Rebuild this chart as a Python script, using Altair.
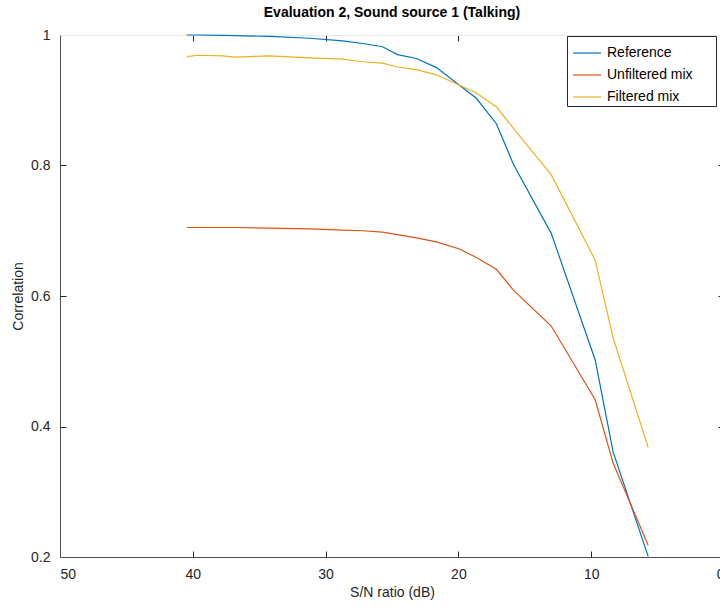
import altair as alt
import pandas as pd

# S/N ratio (dB) of each measured point
snr = [40.45, 39.62, 37.74, 36.84, 34.21, 31.20, 28.72, 27.22, 25.71, 24.59,
       23.16, 21.65, 19.92, 18.65, 17.14, 15.86, 13.01, 9.70, 8.35, 5.71]
reference = [1.000, 1.000, 0.9995, 0.999, 0.998, 0.995, 0.991, 0.987, 0.982, 0.970,
             0.964, 0.950, 0.923, 0.903, 0.864, 0.802, 0.696, 0.502, 0.361, 0.201]
unfiltered = [0.705, 0.705, 0.705, 0.705, 0.704, 0.703, 0.701, 0.700, 0.698, 0.694,
              0.689, 0.683, 0.672, 0.659, 0.641, 0.609, 0.554, 0.441, 0.344, 0.218]
filtered = [0.967, 0.969, 0.968, 0.966, 0.968, 0.965, 0.963, 0.959, 0.957, 0.951,
            0.947, 0.939, 0.923, 0.911, 0.890, 0.857, 0.786, 0.655, 0.536, 0.368]

series_names = ["Reference", "Unfiltered mix", "Filtered mix"]
series_colors = ["#0072BD", "#D95319", "#EDB120"]
x_ticks = [50, 40, 30, 20, 10, 0]
x_inner_ticks = [40, 30, 20, 10]
y_ticks = [0.2, 0.4, 0.6, 0.8, 1.0]
y_inner_ticks = [0.4, 0.6, 0.8]

rows = []
for name, vals in zip(series_names, [reference, unfiltered, filtered]):
    for s, v in zip(snr, vals):
        rows.append({"snr": s, "corr": v, "series": name})
df = pd.DataFrame(rows)

W, H = 660, 522
FONT = "Liberation Sans"
AX = "#262626"

xscale = alt.Scale(domain=[50, 0], range=[0, 664], nice=False)
yscale = alt.Scale(domain=[0.2, 1.0], nice=False)

lines = alt.Chart(df).mark_line(strokeWidth=1.2, clip=False).encode(
    x=alt.X("snr:Q", scale=xscale,
            axis=alt.Axis(orient="bottom", values=x_ticks, tickSize=0, labelPadding=10,
                          title="S/N ratio (dB)", titlePadding=4, domainColor="#4d4d4d",
                          format="d")),
    y=alt.Y("corr:Q", scale=yscale,
            axis=alt.Axis(orient="left", values=y_ticks, tickSize=0, labelPadding=10,
                          title="Correlation", titlePadding=5, domainColor="#4d4d4d",
                          labelExpr="datum.value >= 0.999 ? '1' : format(datum.value, '.1f')")),
    color=alt.Color("series:N",
                    scale=alt.Scale(domain=series_names, range=series_colors),
                    legend=alt.Legend(orient="none", legendX=507, legendY=1, title="\u00a0",
                                      titleOrient="right", titlePadding=21,
                                      titleFontSize=14, titleOpacity=0,
                                      symbolType="stroke", symbolSize=784,
                                      symbolStrokeWidth=1.2, symbolOffset=3,
                                      labelFontSize=14,
                                      labelFont=FONT, labelColor="#000000",
                                      labelOffset=5, rowPadding=-4, padding=2,
                                      strokeColor=AX, fillColor="white")),
)

inner_bl = alt.Chart(df).mark_point(opacity=0).encode(
    x=alt.X("snr:Q", scale=xscale,
            axis=alt.Axis(orient="top", offset=-H, values=x_inner_ticks, labels=False,
                          domain=False, title=None, tickSize=6, tickColor=AX)),
    y=alt.Y("corr:Q", scale=yscale,
            axis=alt.Axis(orient="right", offset=-W, values=y_inner_ticks, labels=False,
                          domain=False, title=None, tickSize=6, tickColor=AX)),
)

inner_tr = alt.Chart(df).mark_point(opacity=0).encode(
    x=alt.X("snr:Q", scale=xscale,
            axis=alt.Axis(orient="bottom", offset=-H, values=x_inner_ticks, labels=False,
                          domain=True, domainColor="#e8e8e8", title=None, tickSize=6,
                          tickColor=AX)),
    y=alt.Y("corr:Q", scale=yscale,
            axis=alt.Axis(orient="left", offset=-664, values=y_inner_ticks, labels=False,
                          domain=False, title=None, tickSize=6, tickColor=AX)),
)

chart = alt.layer(lines, inner_bl, inner_tr).resolve_axis(
    x="independent", y="independent"
).properties(
    width=W, height=H,
    background="white",
    autosize=alt.AutoSizeParams(type="none"),
    padding={"left": 60, "top": 35, "right": 0, "bottom": 52},
    title=alt.Title("Evaluation 2, Sound source 1 (Talking)", font=FONT, fontSize=14,
                    fontWeight="bold", color="#000000", offset=8, anchor="middle", dx=2),
).configure_view(stroke=None).configure_axis(
    grid=False, labelFont=FONT, labelFontSize=14, labelColor=AX,
    titleFont=FONT, titleFontSize=14, titleFontWeight="normal", titleColor=AX,
    domainWidth=1, tickWidth=1,
)

chart.save("out.html", embed_options={"renderer": "svg", "actions": False})
